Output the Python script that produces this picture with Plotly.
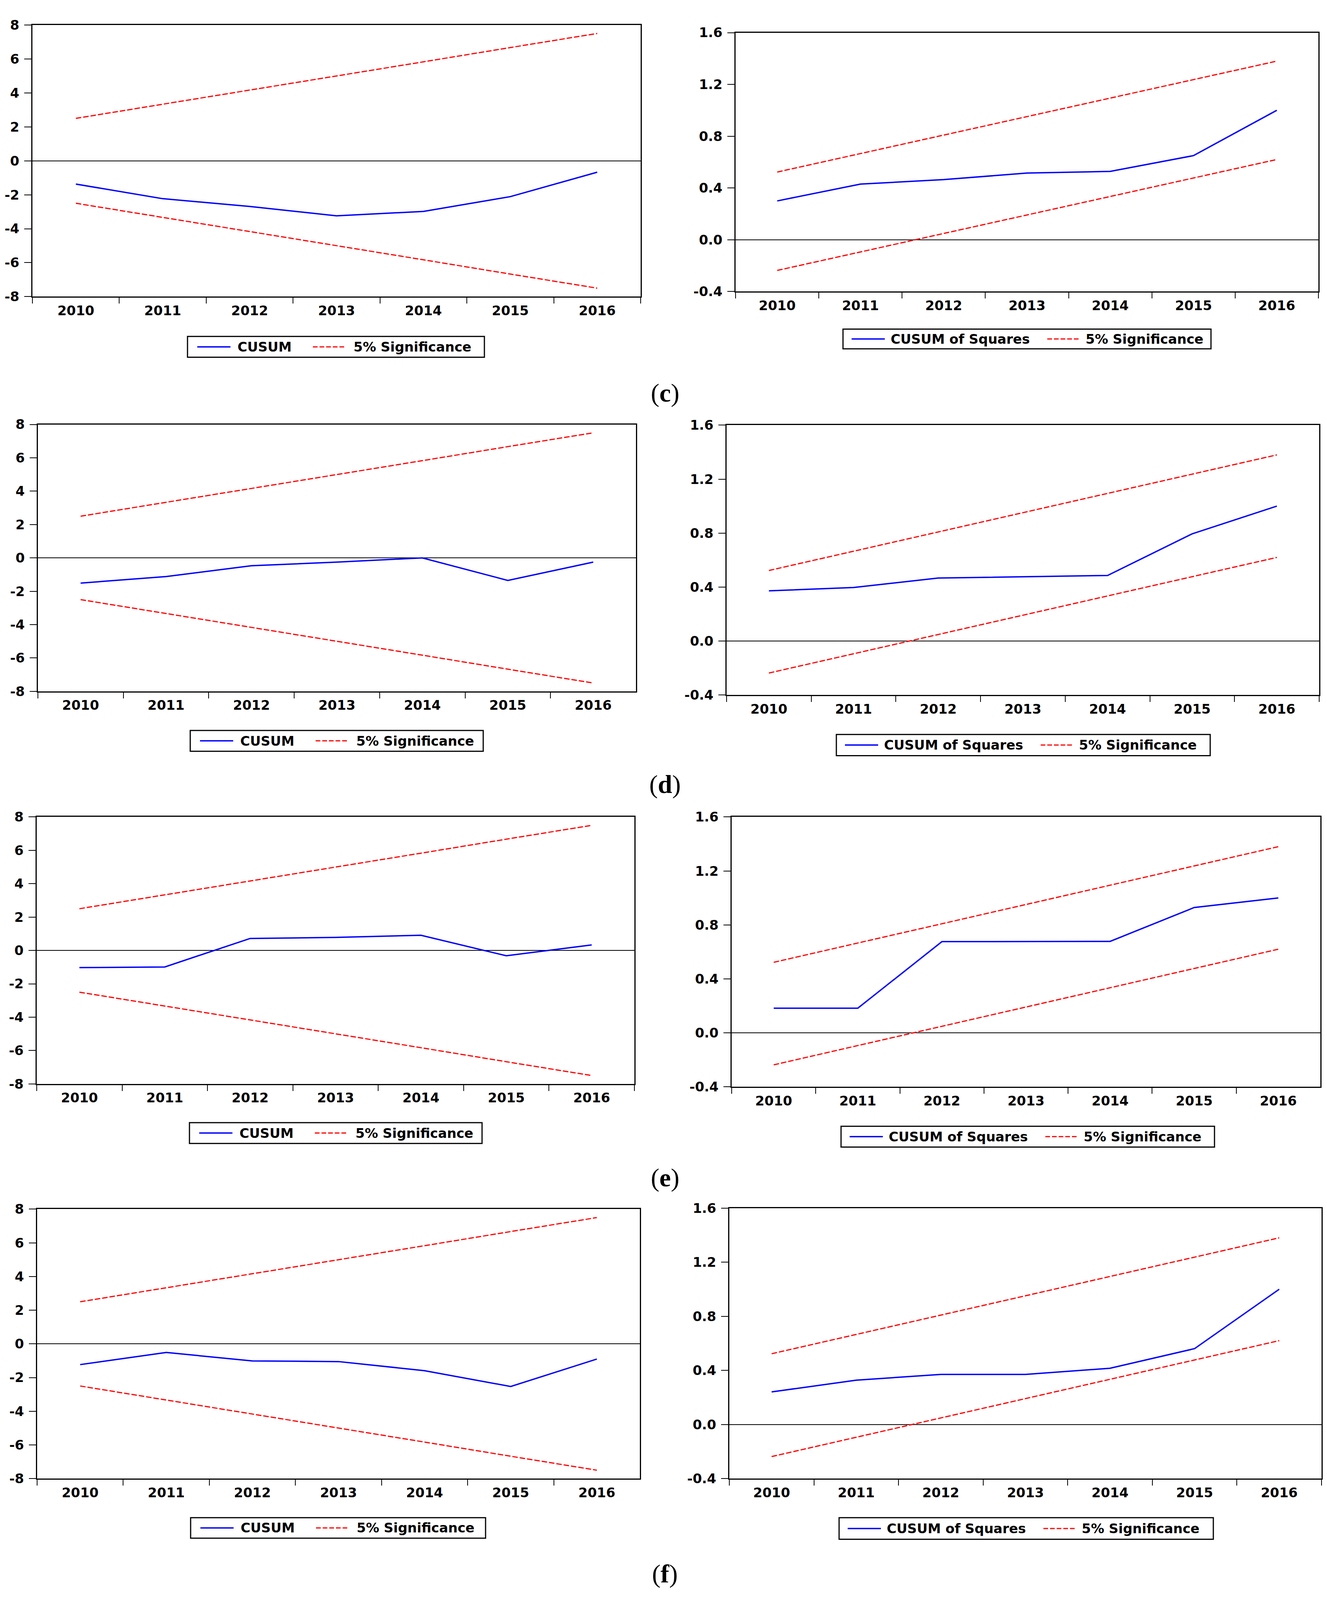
import plotly.graph_objects as go

# ---------------- data ----------------
years = ["2010", "2011", "2012", "2013", "2014", "2015", "2016"]

cusum_c = [-1.37, -2.23, -2.69, -3.24, -2.98, -2.11, -0.67]
cusum_d = [-1.51, -1.12, -0.47, -0.25, 0.00, -1.35, -0.25]
cusum_e = [-1.03, -0.99, 0.72, 0.78, 0.91, -0.32, 0.33]
cusum_f = [-1.23, -0.51, -1.01, -1.05, -1.59, -2.53, -0.90]
cusum_upper = [2.50, 3.33, 4.17, 5.00, 5.83, 6.67, 7.50]
cusum_lower = [-2.50, -3.33, -4.17, -5.00, -5.83, -6.67, -7.50]

cusumsq_c = [0.300, 0.430, 0.465, 0.515, 0.528, 0.650, 1.000]
cusumsq_d = [0.372, 0.397, 0.467, 0.476, 0.486, 0.795, 1.000]
cusumsq_e = [0.183, 0.183, 0.676, 0.676, 0.678, 0.929, 1.000]
cusumsq_f = [0.241, 0.328, 0.370, 0.370, 0.416, 0.561, 1.000]
sq_upper = [0.523, 0.666, 0.809, 0.951, 1.094, 1.237, 1.380]
sq_lower = [-0.237, -0.094, 0.049, 0.191, 0.334, 0.477, 0.620]

cusum_ticks = [-8, -6, -4, -2, 0, 2, 4, 6, 8]
cusum_ticktext = ["-8", "-6", "-4", "-2", "0", "2", "4", "6", "8"]
sq_ticks = [-0.4, 0.0, 0.4, 0.8, 1.2, 1.6]
sq_ticktext = ["-0.4", "0.0", "0.4", "0.8", "1.2", "1.6"]

panel_letters = ["c", "d", "e", "f"]
main_names = ["CUSUM", "CUSUM of Squares"]
band_name = "5% Significance"

# ---------------- layout geometry (pixels of the 3397x4339 reference) ----------------
W, H = 3397, 4339


def px(x):
    return x / W


def py(y):
    return 1 - y / H


panels = [
    # kind, series, upper, lower, plot box (x0,x1,y0,y1), legend box (x0,x1,y0,y1)
    ("cusum", cusum_c, cusum_upper, cusum_lower, (83, 1640, 47, 791), (480, 1240, 900, 957)),
    ("sq", cusumsq_c, sq_upper, sq_lower, (1883, 3375, 68, 777), (2158, 3100, 880, 934)),
    ("cusum", cusum_d, cusum_upper, cusum_lower, (97, 1628, 1141, 1872), (487, 1237, 1979, 2036)),
    ("sq", cusumsq_d, sq_upper, sq_lower, (1860, 3377, 1143, 1882), (2141, 3098, 1990, 2048)),
    ("cusum", cusum_e, cusum_upper, cusum_lower, (94, 1624, 2216, 2947), (485, 1234, 3053, 3110)),
    ("sq", cusumsq_e, sq_upper, sq_lower, (1873, 3380, 2216, 2955), (2153, 3109, 3063, 3120)),
    ("cusum", cusum_f, cusum_upper, cusum_lower, (95, 1638, 3290, 4028), (488, 1243, 4135, 4191)),
    ("sq", cusumsq_f, sq_upper, sq_lower, (1867, 3383, 3287, 4028), (2148, 3106, 4135, 4194)),
]
label_y = [1055, 2127, 3204, 4289]

BLUE = "#0000FF"
RED = "#FF0000"
TICKFONT = dict(family="DejaVu Sans", size=34, color="black", weight="bold")
LEGFONT = dict(family="DejaVu Sans", size=34, color="black", weight="bold")
DASH = "14px,5px"

fig = go.Figure()
layout = dict(
    width=W, height=H, autosize=False,
    margin=dict(l=0, r=0, t=0, b=0, pad=0),
    paper_bgcolor="white", plot_bgcolor="white",
    showlegend=False,
)
shapes = []
annotations = []

for i, (kind, series, up, lo, box, leg) in enumerate(panels, start=1):
    xn = "x" if i == 1 else f"x{i}"
    yn = "y" if i == 1 else f"y{i}"
    xk = "xaxis" if i == 1 else f"xaxis{i}"
    yk = "yaxis" if i == 1 else f"yaxis{i}"
    x0, x1, y0, y1 = box

    fig.add_trace(go.Scatter(x=years, y=up, mode="lines", xaxis=xn, yaxis=yn,
                             line=dict(color=RED, width=3, dash=DASH), hoverinfo="skip"))
    fig.add_trace(go.Scatter(x=years, y=lo, mode="lines", xaxis=xn, yaxis=yn,
                             line=dict(color=RED, width=3, dash=DASH), hoverinfo="skip"))
    fig.add_trace(go.Scatter(x=years, y=series, mode="lines", xaxis=xn, yaxis=yn,
                             line=dict(color=BLUE, width=3.5)))

    layout[xk] = dict(
        domain=[px(x0), px(x1)], anchor=yn, type="category",
        categoryorder="array", categoryarray=years,
        range=[-0.5, 6.5], tickson="boundaries",
        ticks="outside", ticklen=15, tickwidth=2, tickcolor="black",
        showline=True, linecolor="black", linewidth=2.5, mirror=True,
        showgrid=False, zeroline=False, tickfont=TICKFONT,
        ticklabelstandoff=4,
    )
    if kind == "cusum":
        yr, tv, tt = [-8, 8], cusum_ticks, cusum_ticktext
    else:
        yr, tv, tt = [-0.4, 1.6], sq_ticks, sq_ticktext
    layout[yk] = dict(
        domain=[py(y1), py(y0)], anchor=xn, range=yr,
        tickmode="array", tickvals=tv, ticktext=tt,
        ticks="outside", ticklen=18, tickwidth=2, tickcolor="black",
        showline=True, linecolor="black", linewidth=2.5, mirror=True,
        showgrid=False, zeroline=True, zerolinecolor="black", zerolinewidth=1.5,
        tickfont=TICKFONT, ticklabelstandoff=6,
    )

    # ---- legend box (drawn by hand so the line samples match) ----
    lx0, lx1, ly0, ly1 = leg
    ymid = py((ly0 + ly1) / 2)
    shapes.append(dict(type="rect", xref="paper", yref="paper",
                       x0=px(lx0), x1=px(lx1), y0=py(ly1), y1=py(ly0),
                       line=dict(color="black", width=3), fillcolor="white", layer="above"))
    if kind == "cusum":
        s1, t1, s2, t2 = 25, 126, 321, 423
        name = main_names[0]
    else:
        s1, t1, s2, t2 = 22, 120, 523, 619
        name = main_names[1]
    shapes.append(dict(type="line", xref="paper", yref="paper",
                       x0=px(lx0 + s1), x1=px(lx0 + s1 + 85), y0=ymid, y1=ymid,
                       line=dict(color=BLUE, width=3.5), layer="above"))
    shapes.append(dict(type="line", xref="paper", yref="paper",
                       x0=px(lx0 + s2), x1=px(lx0 + s2 + 85), y0=ymid, y1=ymid,
                       line=dict(color=RED, width=3, dash="12px,5px"), layer="above"))
    annotations.append(dict(xref="paper", yref="paper", x=px(lx0 + t1), y=ymid,
                            xanchor="left", yanchor="middle", showarrow=False,
                            text=name, font=LEGFONT))
    annotations.append(dict(xref="paper", yref="paper", x=px(lx0 + t2), y=ymid,
                            xanchor="left", yanchor="middle", showarrow=False,
                            text=band_name, font=LEGFONT))

for letter, ly in zip(panel_letters, label_y):
    annotations.append(dict(xref="paper", yref="paper", x=px(1702), y=py(ly),
                            xanchor="center", yanchor="middle", showarrow=False,
                            text=f"(<b>{letter}</b>)",
                            font=dict(family="Liberation Serif", size=66, color="black")))

layout["shapes"] = shapes
layout["annotations"] = annotations
fig.update_layout(**layout)

# fit the figure to the visible window so nothing is cut off at the bottom
post = (
    "document.documentElement.style.margin='0';"
    "document.documentElement.style.overflow='hidden';"
    "document.body.style.margin='0';"
    "document.body.style.overflow='hidden';"
    "var gd=document.getElementById('{plot_id}');"
    "Plotly.relayout(gd,{width:window.innerWidth,height:window.innerHeight});"
)
fig.write_html("out.html", config={"displayModeBar": False}, post_script=post)
